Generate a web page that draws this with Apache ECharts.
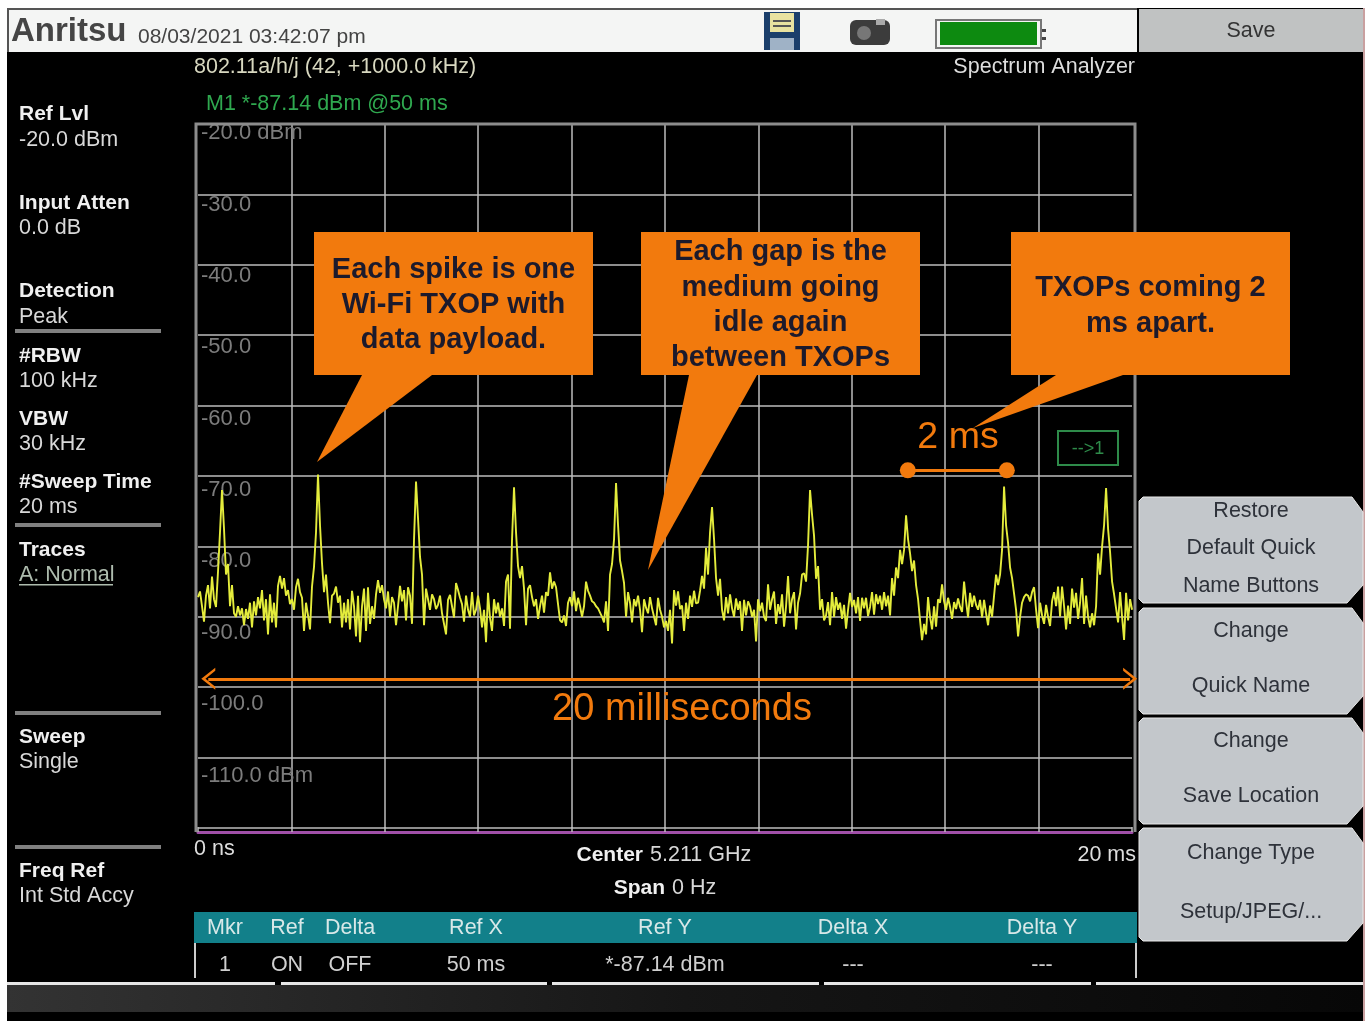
<!DOCTYPE html>
<html>
<head>
<meta charset="utf-8">
<title>Spectrum Analyzer</title>
<style>
  html, body { margin: 0; padding: 0; background: #fff; }
  #chart { width: 1372px; height: 1021px; }
</style>
<script src="https://cdn.jsdelivr.net/npm/echarts@6/dist/echarts.min.js"></script>
</head>
<body>
<div id="chart"></div>
<script>
// trace, one value every 2 px of the plot (dBm)
const sweepDbm = [
  -87.2, -86.4, -88.5, -90.7, -87, -85.5, -88.8, -84.3, -87.5, -88.6,
  -83.6, -78, -72, -77.5, -84, -82.5, -88.5, -85.5, -89.5, -90,
  -88.5, -89.8, -88.8, -91.2, -88.9, -90.3, -88, -91.5, -87.8, -89.8,
  -87.2, -88.8, -86.2, -90.5, -87.5, -92.5, -86.8, -90.8, -88, -91.5,
  -85.6, -84.2, -86, -84.5, -87, -86.2, -88.2, -87.5, -89, -85.8,
  -84.6, -86.5, -87.3, -92, -88, -89.8, -91.8, -85.7, -82.9, -78,
  -69.8, -77, -82.4, -86.5, -84, -88, -90.9, -87, -86.7, -85.7,
  -88, -87, -91.5, -88, -90.8, -87.5, -91.8, -86.3, -88.5, -92.8,
  -87, -93.6, -88.5, -86, -92, -85.8, -91, -88.5, -90.3, -86.8,
  -84.8, -86.6, -85.5, -87.5, -88.8, -86.4, -90, -87.2, -88, -91.2,
  -88.5, -85.6, -87.8, -86.2, -90.5, -85.8, -87, -91, -79, -70.8,
  -76, -81.5, -84, -91.2, -86, -87.5, -89, -86.8, -87.5, -88.9,
  -88.3, -87, -89.5, -91, -92.5, -87.6, -86.9, -88.5, -90.1, -85.2,
  -86.2, -87.3, -88.2, -90.7, -87, -89, -90, -86.5, -89.8, -89,
  -87, -88.8, -91.5, -89, -93.6, -86.6, -90.2, -92, -87.5, -89.5,
  -88, -90, -88.8, -91.3, -85, -84, -91.7, -79, -71.6, -78,
  -82.8, -84.5, -82.8, -86, -91.2, -86, -85.5, -87.2, -88.5, -87.5,
  -90.3, -88.5, -87, -89.4, -86.5, -87, -83.7, -86, -85, -85.8,
  -88.2, -90.5, -90.8, -89.8, -91.3, -88, -87.2, -88.5, -86.4, -89.2,
  -87.3, -88.5, -90, -88.5, -85, -86.3, -87, -87.8, -88, -88.5,
  -88.8, -89.4, -90, -90.8, -87.8, -92, -84, -82.5, -79, -71,
  -77, -82, -83.5, -85.2, -90, -86.5, -88, -90.8, -87.5, -88.5,
  -87, -89, -92.2, -87.5, -88.7, -89.5, -87.2, -88.8, -90, -91.2,
  -87.3, -89, -90, -91.5, -90.6, -92, -89, -93.8, -86.2, -88.4,
  -86.4, -88.9, -88.4, -92, -88, -90.3, -87, -88.6, -86.3, -88.1,
  -88, -86.3, -84.2, -86, -80.2, -84, -78, -74.4, -79, -84.5,
  -87, -84.6, -89, -90.5, -87.2, -89.5, -86.8, -88.8, -90, -87.4,
  -89, -87.8, -92, -87.6, -89.8, -87.8, -88.5, -90, -89, -93.5,
  -87.5, -89.2, -88, -90, -90.6, -85.4, -89, -87.5, -86.4, -91,
  -88.2, -89.6, -86.8, -91.4, -88.5, -84.2, -89.5, -87.5, -86.5, -91.8,
  -88, -86.7, -84, -83.8, -85, -79.8, -72, -75.5, -78.5, -84.6,
  -82.8, -89, -87.5, -90.5, -89.8, -87.9, -91.2, -86.5, -90, -87.2,
  -89, -88, -90.3, -88.3, -91.7, -89, -86.6, -88.6, -87.6, -89.5,
  -87.2, -90.6, -87.3, -88.8, -87.3, -89.9, -88.6, -86.5, -89.7, -86.8,
  -88.2, -87, -89, -86.5, -88.5, -87, -89.8, -84.5, -87, -83,
  -84.5, -80.5, -82.5, -80.5, -75.6, -79, -81, -83.5, -82, -85.5,
  -87.5, -90.5, -93.3, -91, -92.5, -87.2, -90, -91.8, -88.5, -91.4,
  -87.5, -88, -85.4, -87.8, -89, -87.3, -88.6, -90.3, -87.9, -88.9,
  -87.4, -88.6, -89.3, -85, -87.8, -90.1, -86.6, -88.6, -87, -88.3,
  -89, -87.6, -90.1, -87.6, -89.5, -91.2, -88.4, -90, -87, -84,
  -85.5, -84, -80.5, -71.5, -77, -79.5, -83, -84.5, -86.7, -89,
  -92.8, -90, -88, -87.2, -86.8, -87, -87.8, -86.5, -85.8, -89,
  -91.6, -88, -89.8, -91, -88.3, -90, -91.3, -87.8, -86.5, -88.5,
  -85.7, -90, -85.7, -88.5, -91.8, -88.4, -91, -86, -88.7, -86.6,
  -90.3, -88, -84.5, -91, -87, -90, -91.5, -89.5, -91.2, -88.5,
  -81, -84, -80, -77, -71.7, -77.5, -80.8, -85, -86.8, -88.8,
  -90.8, -86.5, -90, -93.3, -86.6, -90.5, -87.5, -89
]
const sweepStepMs = 0.04283

const spanArrow = { fromMs: 0.22, toMs: 19.96, dbm: -98.8 }
const txopGap = { fromMs: 15.2, toMs: 17.32, dbm: -69.2 }

const yTickValues = [-20, -30, -40, -50, -60, -70, -80, -90, -100, -110]
const yTickLabels = ['-20.0 dBm', '-30.0', '-40.0', '-50.0', '-60.0', '-70.0', '-80.0', '-90.0', '-100.0', '-110.0 dBm']

const tableHeader = ['Mkr', 'Ref', 'Delta', 'Ref X', 'Ref Y', 'Delta X', 'Delta Y']
const tableRow = ['1', 'ON', 'OFF', '50 ms', '*-87.14 dBm', '---', '---']
const tableColX = [225, 287, 350, 476, 665, 853, 1042]

// bold label / plain value pairs of the left column
const sideLabels = [
  ['Ref Lvl', 113, '-20.0 dBm', 139],
  ['Input Atten', 202, '0.0 dB', 227],
  ['Detection', 290, 'Peak', 316],
  ['#RBW', 355, '100 kHz', 380],
  ['VBW', 418, '30 kHz', 443],
  ['#Sweep Time', 481, '20 ms', 506],
  ['Traces', 549, 'A: Normal', 574],
  ['Sweep', 736, 'Single', 761],
  ['Freq Ref', 870, 'Int Std Accy', 895]
]
const sideRuleY = [331, 525, 713, 847]

const softKeys = [
  { top: 497, bottom: 603, lines: [['Restore', 511], ['Default Quick', 548], ['Name Buttons', 586]] },
  { top: 608, bottom: 714, lines: [['Change', 631], ['Quick Name', 686]] },
  { top: 718, bottom: 824, lines: [['Change', 741], ['Save Location', 796]] },
  { top: 828, bottom: 941, lines: [['Change Type', 853], ['Setup/JPEG/...', 912]] }
]

const callouts = [
  { x: 314, pointer: [[362, 375], [432, 375], [317, 462]],
    lines: [['Each spike is one', 269], ['Wi-Fi TXOP with', 304], ['data payload.', 339]] },
  { x: 641, pointer: [[689, 375], [757, 375], [648, 570]],
    lines: [['Each gap is the', 251], ['medium going', 287], ['idle again', 322], ['between TXOPs', 357]] },
  { x: 1011, pointer: [[1056, 375], [1123, 375], [973, 428]],
    lines: [['TXOPs coming 2', 287], ['ms apart.', 323]] }
]

const FONT = '"Liberation Sans", Arial, sans-serif'
const TEXT_SIZE = 21.5
const CHEVRON = 'path://M0,10 L5,0 L10,10 L8.6,10 L5,3 L1.4,10 Z'

function label(x, y, str, fill, size, opt) {
  opt = opt || {}
  return {
    type: 'text',
    z: opt.z || 5,
    style: {
      x: x,
      y: y + 1,
      text: str,
      fill: fill,
      font: (opt.bold ? 'bold ' : '') + size + 'px ' + FONT,
      textAlign: opt.align || 'left',
      textVerticalAlign: 'middle'
    }
  }
}

function box(x, y, w, h, fill, z) {
  return { type: 'rect', z: z === undefined ? 1 : z, shape: { x: x, y: y, width: w, height: h }, style: { fill: fill } }
}

function buildGraphics() {
  const els = []

  // screen + header bar
  els.push(box(7, 8, 1356, 1013, '#000', -10))
  els.push(box(7, 8, 1130, 44, '#f4f5f4', -9))
  els.push(box(7, 8, 1130, 2, '#555', -8))
  els.push(box(7, 8, 2, 44, '#555', -8))
  els.push(box(1363, 8, 2, 1013, '#c9a0a0', -8))
  els.push(label(11, 31, 'Anritsu', '#454545', 33, { bold: true }))
  els.push(label(138, 36, '08/03/2021 03:42:07 pm', '#444', 21))

  // floppy icon
  els.push(box(764, 12, 36, 38, '#1b3f6b'))
  els.push(box(770, 13, 24, 19, '#e8e2a0'))
  els.push(box(773, 20, 18, 2, '#555'))
  els.push(box(773, 25, 18, 2, '#555'))
  els.push(box(770, 38, 24, 12, '#9fb2c6'))
  // camera icon
  els.push({ type: 'rect', z: 1, shape: { x: 850, y: 20, width: 40, height: 25, r: 6 }, style: { fill: '#3c3c3c' } })
  els.push({ type: 'circle', z: 2, shape: { cx: 864, cy: 33, r: 7 }, style: { fill: '#777' } })
  els.push(box(876, 19, 9, 6, '#aaa', 2))
  // battery
  els.push({ type: 'rect', z: 1, shape: { x: 936, y: 20, width: 105, height: 28 }, style: { fill: 'none', stroke: '#777', lineWidth: 2 } })
  els.push(box(940, 22, 97, 23, '#0d8a10'))
  els.push(box(1042, 29, 4, 3, '#444'))
  els.push(box(1042, 37, 4, 3, '#444'))

  // top texts
  els.push(label(194, 66, '802.11a/h/j (42, +1000.0 kHz)', '#d8d8c0', TEXT_SIZE))
  els.push(label(1135, 66, 'Spectrum Analyzer', '#ddd', TEXT_SIZE, { align: 'right' }))
  els.push(label(206, 103, 'M1 *-87.14 dBm @50 ms', '#2fa84f', TEXT_SIZE))

  // left column
  sideLabels.forEach(function (s) {
    els.push(label(19, s[1], s[0], '#f0f0f0', 21, { bold: true }))
    els.push(label(19, s[3], s[2], s[2] === 'A: Normal' ? '#aebcae' : '#d8d8d8', TEXT_SIZE))
  })
  els.push(box(19, 584, 94, 1.5, '#aebcae'))
  sideRuleY.forEach(function (y) {
    els.push(box(15, y - 2, 146, 4, '#808080'))
  })

  // plot frame, bottom edge is the x axis line
  els.push({
    type: 'polyline', z: 1,
    shape: { points: [[196, 832], [196, 124], [1135, 124], [1135, 832]] },
    style: { fill: 'none', stroke: '#8c8c8c', lineWidth: 3 }
  })

  // under the plot
  els.push(label(194, 848, '0 ns', '#ddd', TEXT_SIZE))
  els.push(label(1136, 854, '20 ms', '#ddd', TEXT_SIZE, { align: 'right' }))
  els.push(label(643, 854, 'Center', '#f0f0f0', 21, { bold: true, align: 'right' }))
  els.push(label(650, 854, '5.211 GHz', '#d8d8d8', TEXT_SIZE))
  els.push(label(665, 887, 'Span', '#f0f0f0', 21, { bold: true, align: 'right' }))
  els.push(label(672, 887, '0 Hz', '#d8d8d8', TEXT_SIZE))

  // marker table
  els.push(box(194, 912, 943, 31, '#12808a'))
  els.push(box(194, 943, 2, 35, '#ccc'))
  els.push(box(1135, 943, 2, 35, '#ccc'))
  tableHeader.forEach(function (t, i) {
    els.push(label(tableColX[i], 927, t, '#d8e8e8', TEXT_SIZE, { align: 'center' }))
    els.push(label(tableColX[i], 964, tableRow[i], '#cfcfcf', TEXT_SIZE, { align: 'center' }))
  })

  // bottom rules + dark band
  els.push({
    type: 'rect', z: 0,
    shape: { x: 7, y: 985, width: 1356, height: 27 },
    style: { fill: new echarts.graphic.LinearGradient(0, 0, 1, 0, [
      { offset: 0, color: '#333' }, { offset: 0.5, color: '#161616' }, { offset: 1, color: '#070707' }
    ]) }
  })
  ;[[7, 275], [281, 547], [552, 819], [824, 1091], [1096, 1363]].forEach(function (r) {
    els.push(box(r[0], 982, r[1] - r[0], 3, '#e6e6e6'))
  })

  // soft keys
  els.push(box(1139, 9, 224, 43, '#c0c2c2'))
  els.push(label(1251, 30, 'Save', '#333', TEXT_SIZE, { align: 'center' }))
  softKeys.forEach(function (k) {
    els.push({
      type: 'polygon', z: 1,
      shape: { points: [[1143, k.top], [1352, k.top], [1363, k.top + 15], [1363, k.bottom - 18], [1347, k.bottom], [1143, k.bottom], [1139, k.bottom - 4], [1139, k.top + 4]] },
      style: { fill: '#c3c7cb', stroke: '#e8e8e8', lineWidth: 1 }
    })
    k.lines.forEach(function (l) {
      els.push(label(1251, l[1] - 1, l[0], '#2e323a', TEXT_SIZE, { align: 'center' }))
    })
  })

  // marker box
  els.push({ type: 'rect', z: 6, shape: { x: 1058, y: 431, width: 60, height: 34 }, style: { fill: '#000', stroke: '#2e8b4a', lineWidth: 2 } })
  els.push(label(1088, 448, '-->1', '#2e8b4a', 18, { align: 'center', z: 7 }))

  // callouts
  callouts.forEach(function (c) {
    els.push({ type: 'polygon', z: 8, shape: { points: c.pointer }, style: { fill: '#f27a0d' } })
    els.push(box(c.x, 232, 279, 143, '#f27a0d', 8))
    c.lines.forEach(function (l) {
      els.push(label(c.x + 139.5, l[1], l[0], '#1c1a2c', 29, { bold: true, align: 'center', z: 9 }))
    })
  })
  els.push(label(958, 437, '2 ms', '#f27a0d', 37.5, { align: 'center', z: 9 }))
  els.push(label(682, 709, '20 milliseconds', '#f27a0d', 38, { align: 'center', z: 9 }))

  return els
}

const chart = echarts.init(document.getElementById('chart'))
chart.setOption({
  animation: false,
  backgroundColor: '#fff',
  grid: { left: 198, top: 124, width: 934, height: 704, containLabel: false },
  xAxis: {
    type: 'value',
    min: 0,
    max: 20,
    interval: 2,
    offset: 4,
    axisLine: { lineStyle: { color: '#a050a8', width: 3 } },
    axisTick: { show: true, inside: true, length: 5, lineStyle: { color: '#bdbdbd', width: 1.5 } },
    axisLabel: { show: false },
    splitLine: { show: true, showMinLine: false, showMaxLine: false, lineStyle: { color: '#bdbdbd', width: 1.5 } }
  },
  yAxis: [
    {
      type: 'value',
      min: -120,
      max: -20,
      interval: 10,
      axisLine: { show: false },
      axisTick: { show: false },
      axisLabel: { show: false },
      splitLine: { show: true, showMaxLine: false, lineStyle: { color: '#bdbdbd', width: 1.5 } }
    },
    {
      // the instrument prints its level labels on a slightly wider pitch than the graticule
      type: 'value',
      position: 'left',
      min: -117.35,
      max: -18.72,
      axisLine: { show: false },
      axisTick: { show: false },
      splitLine: { show: false },
      axisLabel: {
        inside: true,
        margin: 3,
        customValues: yTickValues,
        verticalAlign: 'middle',
        color: '#7c7c7c',
        fontFamily: FONT,
        fontSize: 22,
        formatter: function (v) { return yTickLabels[yTickValues.indexOf(v)] }
      }
    }
  ],
  graphic: { elements: buildGraphics() },
  series: [
    {
      type: 'line',
      data: sweepDbm.map(function (v, i) { return [i * sweepStepMs, v] }),
      showSymbol: false,
      lineStyle: { color: '#e4ec3c', width: 1.9 },
      z: 3,
      silent: true
    },
    {
      type: 'line',
      data: [],
      silent: true,
      z: 4,
      markLine: {
        silent: true,
        label: { show: false },
        data: [
          [{ coord: [spanArrow.fromMs, spanArrow.dbm], symbol: CHEVRON, symbolSize: [22, 14], lineStyle: { color: '#f27a0d', width: 3, type: 'solid' } },
           { coord: [spanArrow.toMs, spanArrow.dbm], symbol: CHEVRON, symbolSize: [22, 14] }],
          [{ coord: [txopGap.fromMs, txopGap.dbm], symbol: 'circle', symbolSize: 16, lineStyle: { color: '#f27a0d', width: 3, type: 'solid' } },
           { coord: [txopGap.toMs, txopGap.dbm], symbol: 'circle', symbolSize: 16 }]
        ]
      }
    }
  ]
})
</script>
</body>
</html>
